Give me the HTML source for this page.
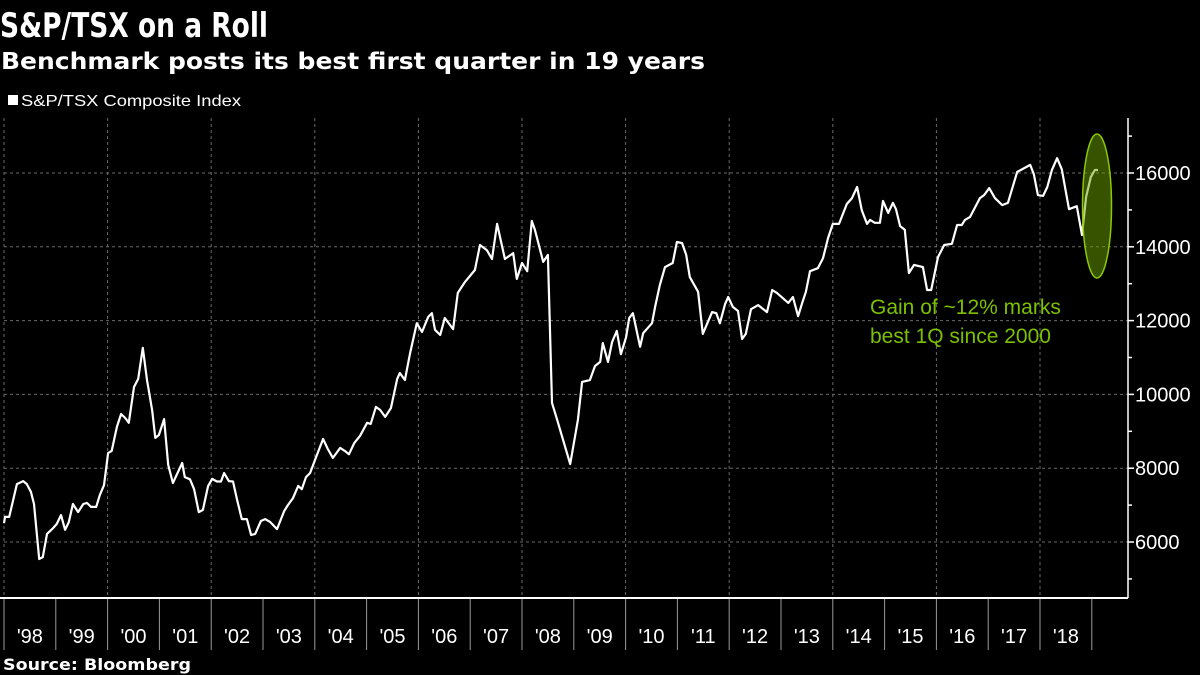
<!DOCTYPE html>
<html><head><meta charset="utf-8"><style>
html,body{margin:0;padding:0;background:#000;}
svg{display:block;font-family:"Liberation Sans","DejaVu Sans",sans-serif;}
</style></head><body>
<svg id="chart" width="1200" height="675" viewBox="0 0 1200 675">
<rect x="0" y="0" width="1200" height="675" fill="#000"/>
<text x="0" y="37" font-family="DejaVu Sans, sans-serif" font-weight="bold" font-size="34" fill="#fff" textLength="268" lengthAdjust="spacingAndGlyphs">S&amp;P/TSX on a Roll</text>
<text x="1" y="69" font-family="DejaVu Sans, sans-serif" font-weight="bold" font-size="23" fill="#fff" textLength="704" lengthAdjust="spacingAndGlyphs">Benchmark posts its best first quarter in 19 years</text>
<rect x="8" y="95" width="10" height="10" fill="#fff"/>
<text x="21" y="106" font-size="16" fill="#fff" textLength="220" lengthAdjust="spacingAndGlyphs">S&amp;P/TSX Composite Index</text>
<g id="grid"></g>
<g id="axes"></g>
<g id="series"></g>
<ellipse cx="1097" cy="206" rx="14.5" ry="72" fill="rgba(110,165,0,0.5)" stroke="#8cc800" stroke-width="1.5"/>
<text x="870" y="314" font-size="21" fill="#7cc000">Gain of ~12% marks</text>
<text x="870" y="343" font-size="21" fill="#7cc000">best 1Q since 2000</text>
<text x="3" y="670" font-family="DejaVu Sans, sans-serif" font-weight="bold" font-size="16" fill="#fff" textLength="188" lengthAdjust="spacingAndGlyphs">Source: Bloomberg</text>
</svg>
<script>
const dates = [1997.96,1998.02,1998.10,1998.25,1998.37,1998.44,1998.52,1998.58,1998.68,1998.75,1998.83,1998.95,
1999.02,1999.10,1999.18,1999.25,1999.33,1999.43,1999.53,1999.60,1999.68,1999.78,1999.85,1999.93,
2000.01,2000.08,2000.18,2000.26,2000.34,2000.41,2000.51,2000.59,2000.68,2000.76,2000.86,2000.92,2000.99,
2001.09,2001.17,2001.26,2001.44,2001.49,2001.59,2001.67,2001.76,2001.84,2001.94,
2002.02,2002.11,2002.19,2002.25,2002.34,2002.42,2002.50,2002.59,2002.69,2002.77,2002.85,2002.96,
2003.04,2003.14,2003.27,2003.41,2003.48,2003.58,2003.68,2003.75,2003.83,2003.91,
2004.02,2004.16,2004.25,2004.35,2004.49,2004.58,2004.66,2004.76,2004.87,
2005.01,2005.08,2005.18,2005.26,2005.36,2005.47,2005.59,2005.64,2005.74,2005.84,2005.97,
2006.07,2006.19,2006.26,2006.32,2006.42,2006.51,2006.67,2006.76,2006.90,
2007.09,2007.19,2007.32,2007.42,2007.52,2007.67,2007.83,2007.90,
2008.00,2008.10,2008.19,2008.25,2008.41,2008.50,2008.58,2008.68,2008.81,2008.93,
2009.08,2009.16,2009.31,2009.41,2009.51,2009.56,2009.66,2009.74,2009.83,2009.91,
2010.01,2010.07,2010.14,2010.28,2010.34,2010.51,2010.57,2010.66,2010.76,2010.91,2010.99,
2011.09,2011.17,2011.24,2011.40,2011.49,2011.67,2011.75,2011.82,2011.92,2011.98,
2012.07,2012.17,2012.25,2012.32,2012.42,2012.56,2012.73,2012.83,2012.92,
2013.14,2013.23,2013.33,2013.41,2013.48,2013.56,2013.71,2013.81,2013.91,
2014.00,2014.12,2014.27,2014.37,2014.47,2014.56,2014.66,2014.72,2014.81,2014.91,2014.97,
2015.07,2015.16,2015.22,2015.30,2015.39,2015.47,2015.57,2015.74,2015.82,2015.90,
2016.03,2016.15,2016.30,2016.40,2016.49,2016.55,2016.65,2016.75,2016.84,2016.92,
2017.02,2017.13,2017.27,2017.38,2017.56,2017.63,2017.81,2017.88,2017.96,
2018.06,2018.14,2018.23,2018.33,2018.42,2018.56,2018.71,2018.81,2018.89,2018.98,
2019.06,2019.12,2019.22];
const values = [6510,6680,6680,7570,7650,7570,7360,7030,5540,5590,6220,6380,
6490,6730,6330,6540,7030,6810,7030,7060,6950,6950,7270,7540,
8410,8470,9120,9470,9360,9230,10200,10420,11260,10390,9580,8820,8900,
9330,8090,7600,8140,7760,7700,7430,6810,6870,7520,
7710,7640,7640,7870,7650,7640,7140,6620,6620,6190,6220,6570,
6620,6540,6350,6840,7000,7190,7520,7430,7760,7870,
8280,8790,8520,8280,8550,8470,8380,8680,8870,
9230,9200,9660,9580,9390,9630,10420,10580,10390,11120,
11930,11690,12100,12200,11750,11610,12070,11770,12750,
13050,13370,14050,13910,13670,14620,13670,13830,
13130,13560,13340,14700,14460,13590,13780,9770,9310,8680,
8110,9310,10340,10390,10770,10880,11390,10880,11420,11720,
11090,11550,12070,12200,11290,11660,11930,12370,12960,13450,13560,
14130,14100,13780,13180,12780,11640,12230,12200,11930,12450,
12640,12370,12260,11500,11640,12310,12420,12230,12830,
12750,12480,12640,12120,12480,12780,13340,13420,13690,
14240,14620,14620,15160,15320,15620,14990,14620,14730,14650,14650,
15240,14920,15190,15020,14560,14460,13290,13510,13450,12830,
12830,13720,14050,14080,14590,14590,14730,14810,15080,15320,
15400,15590,15320,15130,15190,16030,16080,16220,15970,
15400,15380,15620,16080,16400,16100,15020,15100,14320,15350,
15890,16080,16080];
const yTickValues = [6000,8000,10000,12000,14000,16000];
const yMinorTicks = [5000,7000,9000,11000,13000,15000,17000];
const yearLabels = ["'98","'99","'00","'01","'02","'03","'04","'05","'06","'07","'08","'09","'10","'11","'12","'13","'14","'15","'16","'17","'18"];

const NS = "http://www.w3.org/2000/svg";
const X0 = 4, PX_PER_YEAR = 51.8, PLOT_R = 1128, PLOT_T = 118, PLOT_B = 598;
const xScale = d => X0 + (d - 1998) * PX_PER_YEAR;
const yScale = v => 542 - (v - 6000) * (369 / 10000);
function mk(tag, attrs, parent){ const e=document.createElementNS(NS,tag); for(const k in attrs) e.setAttribute(k, attrs[k]); parent.appendChild(e); return e; }
const grid = document.getElementById('grid'), axes = document.getElementById('axes'), series = document.getElementById('series');

yTickValues.forEach(v => {
  const y = yScale(v);
  const g = mk('line',{x1:X0,x2:PLOT_R,y1:y,y2:y,stroke:'#6a6a6a','stroke-width':1,'stroke-dasharray':'3,3'},grid);
  
  
  const t = mk('line',{x1:PLOT_R,x2:PLOT_R+6,y1:y,y2:y,stroke:'#fff','stroke-width':1.5},axes);
  
  
  const l = mk('text',{x:PLOT_R+7,y:y+7,'font-size':20,fill:'#fff'},axes);
  l.textContent = String(v);
  
  
});
yMinorTicks.forEach(v => {
  const y = yScale(v);
  const t = mk('line',{x1:PLOT_R,x2:PLOT_R+4,y1:y,y2:y,stroke:'#fff','stroke-width':1.5},axes);
  
  
});
for (let i = 0; i <= 10; i++) {
  const x = xScale(1998 + 2*i);
  const g = mk('line',{x1:x,x2:x,y1:PLOT_T,y2:PLOT_B,stroke:'#6a6a6a','stroke-width':1,'stroke-dasharray':'3,3'},grid);
  
  
}
yearLabels.forEach((lab, i) => {
  const x = xScale(1998 + i);
  const t = mk('line',{x1:x,x2:x,y1:PLOT_B,y2:650,stroke:'#9a9a9a','stroke-width':1},axes);
  
  
  const l = mk('text',{x:x + PX_PER_YEAR/2,y:643,'font-size':20,fill:'#fff','text-anchor':'middle'},axes);
  l.textContent = lab;
  
  
});
const xl = mk('line',{x1:xScale(2019),x2:xScale(2019),y1:PLOT_B,y2:650,stroke:'#9a9a9a','stroke-width':1},axes);


const xa = mk('line',{x1:0,x2:PLOT_R,y1:PLOT_B,y2:PLOT_B,stroke:'#fff','stroke-width':2},axes);


const ya = mk('line',{x1:PLOT_R,x2:PLOT_R,y1:PLOT_T,y2:PLOT_B,stroke:'#fff','stroke-width':1.5},axes);



const pts = dates.map((d,i) => xScale(Math.max(d,1998)).toFixed(1) + ',' + yScale(values[i]).toFixed(1)).join(' ');
const line = mk('polyline',{points:pts,fill:'none',stroke:'#fff','stroke-width':2.2,'stroke-linejoin':'round'},series);


</script>
</body></html>
